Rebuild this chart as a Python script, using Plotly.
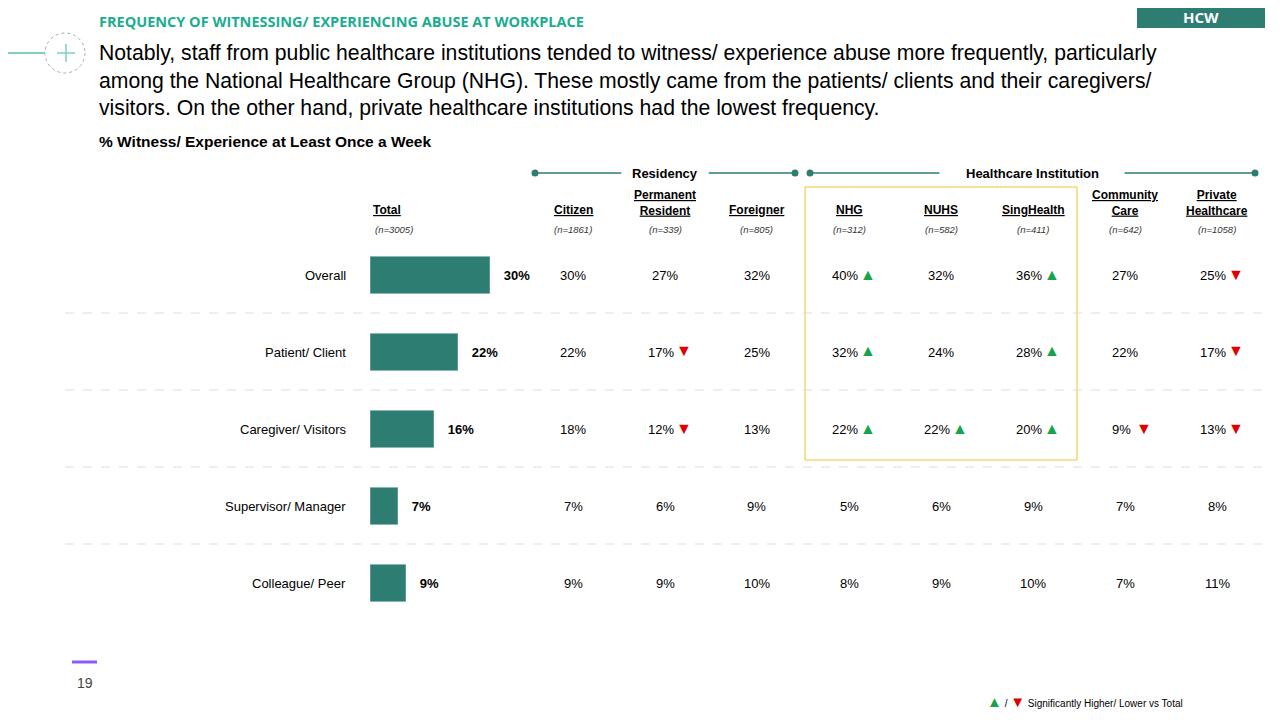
import plotly.graph_objects as go

rows = ["Overall", "Patient/ Client", "Caregiver/ Visitors", "Supervisor/ Manager", "Colleague/ Peer"]
total = [30, 22, 16, 7, 9]
col_names = ["<u>Citizen</u>", "<u>Permanent</u><br><u>Resident</u>", "<u>Foreigner</u>", "<u>NHG</u>", "<u>NUHS</u>",
             "<u>SingHealth</u>", "<u>Community</u><br><u>Care</u>", "<u>Private</u><br><u>Healthcare</u>"]
col_n = ["(n=1861)", "(n=339)", "(n=805)", "(n=312)", "(n=582)", "(n=411)", "(n=642)", "(n=1058)"]
values = [
    [30, 27, 32, 40, 32, 36, 27, 25],
    [22, 17, 25, 32, 24, 28, 22, 17],
    [18, 12, 13, 22, 22, 20, 9, 13],
    [7, 6, 9, 5, 6, 9, 7, 8],
    [9, 9, 10, 8, 9, 10, 7, 11],
]
sig = [
    ["", "", "", "up", "", "up", "", "down"],
    ["", "down", "", "up", "", "up", "", "down"],
    ["", "down", "", "up", "up", "up", "down", "down"],
    [""] * 8,
    [""] * 8,
]

OFF = 8
W, H = 1280 - OFF, 720 - OFF
TEAL = "#2e7d72"
def px(x): return (x - OFF) / W
def py(y): return 1 - (y - OFF) / H

fig = go.Figure()
fig.add_trace(go.Bar(x=total, y=list(range(len(rows))), orientation="h", marker_color=TEAL,
                     width=0.49, text=[f"   <b>{v}%</b>" for v in total], textposition="outside",
                     textfont=dict(size=13, color="#000"), cliponaxis=False, hoverinfo="skip"))
row_y = [275, 352, 429, 506, 583]
fig.update_layout(
    width=W, height=H, margin=dict(l=0, r=0, t=0, b=0), plot_bgcolor="white", paper_bgcolor="white",
    showlegend=False, font=dict(family="Liberation Sans, Arial", color="#000"),
    xaxis=dict(domain=[px(370), px(570)], range=[0, 50], visible=False, fixedrange=True),
    yaxis=dict(domain=[py(621.5), py(236.5)], range=[4.5, -0.5], visible=False, fixedrange=True),
)
ann = []
def T(x, y, text, size=12, color="#000", xanchor="center", **kw):
    ann.append(dict(x=px(x), y=py(y), xref="paper", yref="paper", text=text, showarrow=False,
                    font=dict(size=size, color=color, **kw), xanchor=xanchor, yanchor="middle"))
shapes = []
def L(x0, y0, x1, y1, color, width=1, dash="solid"):
    shapes.append(dict(type="line", xref="paper", yref="paper", x0=px(x0), y0=py(y0), x1=px(x1), y1=py(y1),
                       line=dict(color=color, width=width, dash=dash)))

# Header
T(97, 22, "<b>FREQUENCY OF WITNESSING/ EXPERIENCING ABUSE AT WORKPLACE</b>", 14.5, "#1aae8f", "left",
  family="Open Sans")
shapes.append(dict(type="rect", xref="paper", yref="paper", x0=px(1137), x1=px(1265), y0=py(28), y1=py(0),
                   fillcolor=TEAL, line_width=0))
T(1201, 17, "<b>HCW</b>", 15, "white", family="Open Sans")
L(OFF, 53, 45, 53, "#7fcfc4", 2)
shapes.append(dict(type="circle", xref="paper", yref="paper", x0=px(45), x1=px(85), y0=py(73), y1=py(33),
                   line=dict(color="#aaaaaa", width=1, dash="dot")))
L(57, 53, 75, 53, "#7fcfc4", 1.5); L(66, 44, 66, 62, "#7fcfc4", 1.5)
T(97, 80, "Notably, staff from public healthcare institutions tended to witness/ experience abuse more frequently, particularly"
          "<br>among the National Healthcare Group (NHG). These mostly came from the patients/ clients and their caregivers/"
          "<br>visitors. On the other hand, private healthcare institutions had the lowest frequency.", 21.2, "#000", "left")
ann[-1]["align"] = "left"
T(97, 142, "<b>% Witness/ Experience at Least Once a Week</b>", 15.5, "#000", "left")

# Group headers
for (x0, x1, xt, label) in [(535, 795, 665, "Residency"), (810, 1255, 1032, "Healthcare Institution")]:
    L(x0, 173, x1, 173, TEAL, 1.5)
    for xx in (x0, x1):
        shapes.append(dict(type="circle", xref="paper", yref="paper", x0=px(xx - 3.5), x1=px(xx + 3.5),
                           y0=py(176.5), y1=py(169.5), fillcolor=TEAL, line_width=0))
    w = len(label) * 7.5 / 2 + 10
    shapes.append(dict(type="rect", xref="paper", yref="paper", x0=px(xt - w), x1=px(xt + w),
                       y0=py(182), y1=py(164), fillcolor="white", line_width=0))
    T(xt, 173, f"<b>{label}</b>", 13)

T(387, 210, "<b><u>Total</u></b>", 12)
T(394, 229, "<i>(n=3005)</i>", 9.5, "#333")
cols = [573, 665, 757, 849, 941, 1033, 1125, 1217]
for c, name, n in zip(cols, col_names, col_n):
    if "<br>" in name:
        T(c, 203, "<b>" + name + "</b>", 12)
    else:
        T(c, 210, "<b>" + name + "</b>", 12)
    T(c, 229, f"<i>{n}</i>", 9.5, "#333")

shapes.append(dict(type="rect", xref="paper", yref="paper", x0=px(805), x1=px(1077), y0=py(460), y1=py(187),
                   line=dict(color="#f2c230", width=1)))

for i, (r, y) in enumerate(zip(rows, row_y)):
    T(348, y, r, 13, "#000", "right")
    for j, c in enumerate(cols):
        s = sig[i][j]
        if s:
            T(c - 4, y, f"{values[i][j]}%", 13)
            T(c + 19, y - 1, "▲" if s == "up" else "▼", 16, "#16a34a" if s == "up" else "#e00000")
        else:
            T(c, y, f"{values[i][j]}%", 13)
    if i < len(rows) - 1:
        L(65, y + 38, 1265, y + 38, "#dddddd", 1, "dash")

# Footer
L(72, 662, 97, 662, "#8b5cf6", 3)
T(85, 683, "19", 14, "#444")
T(985, 701, "<span style='color:#16a34a;font-size:15px'>▲</span> / <span style='color:#e00000;font-size:15px'>▼</span> Significantly Higher/ Lower vs Total", 10, "#000", "left")

fig.update_layout(annotations=ann, shapes=shapes)
fig.write_html("out.html")
